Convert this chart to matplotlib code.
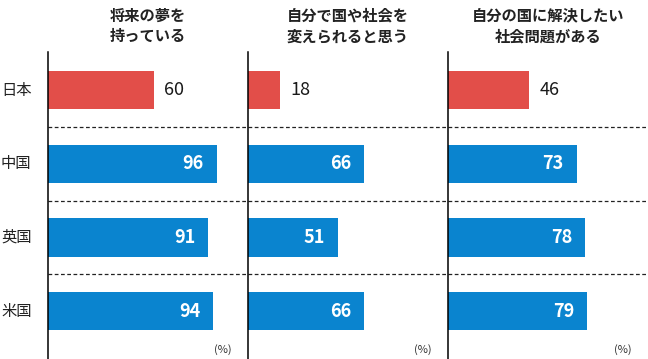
import numpy as np
import matplotlib.pyplot as plt

plt.rcParams['font.family'] = ['Noto Sans CJK JP', 'DejaVu Sans']

countries = ["日本", "中国", "英国", "米国"]
titles = ["将来の夢を\n持っている", "自分で国や社会を\n変えられると思う", "自分の国に解決したい\n社会問題がある"]
dreams = [60, 96, 91, 94]
change = [18, 66, 51, 66]
issues = [46, 73, 78, 79]
series = [dreams, change, issues]

red = "#E24E49"
blue = "#0A84CF"
colors = [red, blue, blue, blue]

W, H = 648, 359
fig = plt.figure(figsize=(W / 100, H / 100), dpi=100)

y = np.arange(len(countries))
for i, vals in enumerate(series):
    left = 48 + i * 200
    ax = fig.add_axes([left / W, 0, 200 / W, (H - 52) / H])
    ax.barh(y, vals, height=0.52, color=colors)
    ax.set_xlim(0, 113.6)
    ax.set_ylim(3.65, -0.52)
    for k, v in enumerate(vals):
        if k == 0:
            ax.text(v + 6, y[k], str(v), va="center", ha="left", fontsize=13, color="#1a1a1a")
        else:
            ax.text(v - 7.5, y[k], str(v), va="center", ha="right", fontsize=13,
                    color="white", fontweight="bold")
    for d in [0.5, 1.5, 2.5]:
        ax.axhline(d, color="#222222", lw=0.9, ls=(0, (3, 2)))
    for s in ["top", "right", "bottom"]:
        ax.spines[s].set_visible(False)
    ax.spines["left"].set_linewidth(1.1)
    ax.set_xticks([])
    ax.set_yticks([])
    ax.text(0.5, 1 + 26 / (H - 52), titles[i], transform=ax.transAxes, ha="center",
            va="center", fontsize=11, fontweight="bold", linespacing=1.35, color="#222222")
    ax.text(0.92, 9 / (H - 52), "(%)", transform=ax.transAxes, ha="right", va="center",
            fontsize=8, color="#333333")
    if i == 0:
        for k, c in enumerate(countries):
            ax.text(-47 / 200 * 113.6, y[k], c, ha="left", va="center", fontsize=11,
                    color="#222222")

fig.savefig("out.png", dpi=100)
